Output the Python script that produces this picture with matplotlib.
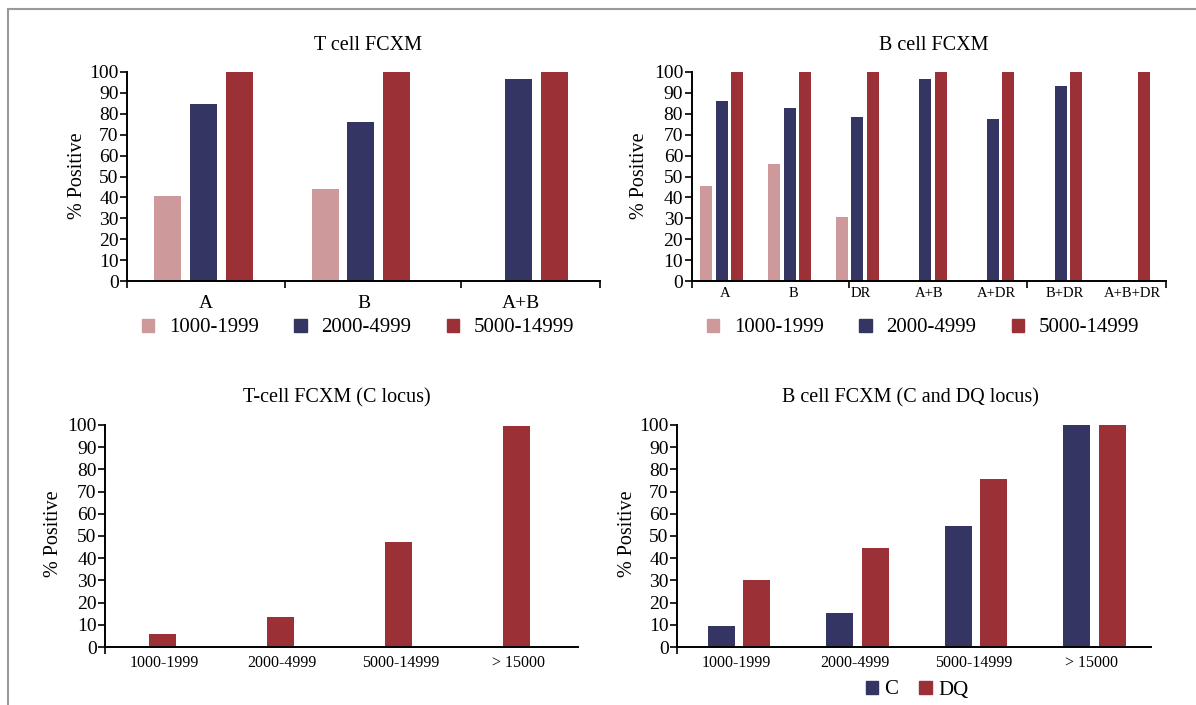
import numpy as np
import matplotlib
matplotlib.use("Agg")
import matplotlib.pyplot as plt
from matplotlib.patches import Patch
from matplotlib.lines import Line2D

plt.rcParams['font.family'] = ['Liberation Serif', 'DejaVu Serif']

#Colours
PINK = '#cd999a'
NAVY = '#353563'
RED = '#9b3036'

#T cell FCXM
t_cats = ['A', 'B', 'A+B']
t_low = [40.5, 44, 0]
t_mid = [84.5, 76, 96.5]
t_high = [100, 100, 100]

#B cell FCXM
b_cats = ['A', 'B', 'DR', 'A+B', 'A+DR', 'B+DR', 'A+B+DR']
b_low = [45.5, 56, 30.5, 0, 0, 0, 0]
b_mid = [86, 83, 78.5, 96.5, 77.5, 93.5, 0]
b_high = [100, 100, 100, 100, 100, 100, 100]

#C / DQ locus panels
mfi_cats = ['1000-1999', '2000-4999', '5000-14999', '> 15000']
tc_locus = [6, 13.5, 47.5, 99.5]
bc_c = [9.5, 15.5, 54.5, 100]
bc_dq = [30, 44.5, 75.5, 100]

range_labels = ['1000-1999', '2000-4999', '5000-14999']
W, H = 1196, 705


def px_axes(left, right, top, bottom):
    return fig.add_axes([left / W, 1 - bottom / H, (right - left) / W, (bottom - top) / H])


def style(ax, cats, xfont, xpad, xticks_at=None):
    ax.set_xlim(-0.5, len(cats) - 0.5)
    ax.set_ylim(0, 100)
    ax.set_yticks(range(0, 101, 10))
    for s in ['top', 'right']:
        ax.spines[s].set_visible(False)
    for s in ['left', 'bottom']:
        ax.spines[s].set_linewidth(1.4)
    ax.tick_params(axis='y', labelsize=14, length=5, width=1.2, pad=1)
    ax.set_xticks(range(len(cats)))
    ax.set_xticklabels(cats, fontsize=xfont)
    ax.tick_params(axis='x', which='major', length=0, pad=xpad)
    minor = [-0.5] + (xticks_at or [])
    ax.set_xticks(minor, minor=True)
    ax.tick_params(axis='x', which='minor', length=5, width=1.2)


def ylab(x, y):
    fig.text(x / W, 1 - y / H, '% Positive', rotation=90, ha='center', va='center', fontsize=14.5)


def title(x, y, s):
    fig.text(x / W, 1 - y / H, s, ha='center', va='center', fontsize=14.5)


fig = plt.figure(figsize=(W / 100, H / 100), dpi=100)

#Top left
ax1 = px_axes(127, 600, 72, 281)
x = np.arange(len(t_cats)) - 0.016
bw = 0.171
ax1.bar(x - 0.228, t_low, bw, color=PINK)
ax1.bar(x, t_mid, bw, color=NAVY)
ax1.bar(x + 0.228, t_high, bw, color=RED)
style(ax1, t_cats, 14, 10, [0.5, 1.62, 2.5])
ylab(77, 176)
title(368, 45, 'T cell FCXM')

#Top right
ax2 = px_axes(691.5, 1166, 72, 281)
x = np.arange(len(b_cats)) - 0.053
bw = 0.177
ax2.bar(x - 0.228, b_low, bw, color=PINK)
ax2.bar(x, b_mid, bw, color=NAVY)
ax2.bar(x + 0.228, b_high, bw, color=RED)
style(ax2, b_cats, 10.5, 4, [1.82, 4.45, 6.5])
ylab(640, 176)
title(934, 45, 'B cell FCXM')

#Bottom left
ax3 = px_axes(105, 577.5, 425, 647)
x = np.arange(len(mfi_cats)) - 0.017
ax3.bar(x, tc_locus, 0.228, color=RED)
style(ax3, mfi_cats, 11.5, 6)
ylab(54, 534)
title(337, 398, 'T-cell FCXM (C locus)')

#Bottom right
ax4 = px_axes(677, 1151, 425, 647)
x = np.arange(len(mfi_cats)) + 0.023
ax4.bar(x - 0.148, bc_c, 0.228, color=NAVY)
ax4.bar(x + 0.148, bc_dq, 0.228, color=RED)
style(ax4, mfi_cats, 11.5, 6)
ylab(627, 534)
title(910, 398, 'B cell FCXM (C and DQ locus)')

#Legends
three = [Patch(color=c) for c in (PINK, NAVY, RED)]
for cx in (358, 923):
    fig.legend(three, range_labels, loc='center', bbox_to_anchor=(cx / W, 1 - 328 / H),
               ncol=3, frameon=False, fontsize=15, handlelength=0.6, handleheight=0.6,
               handletextpad=0.7, columnspacing=1.7, borderaxespad=0, borderpad=0)
fig.legend([Patch(color=NAVY), Patch(color=RED)], ['C', 'DQ'], loc='center',
           bbox_to_anchor=(917 / W, 1 - 690 / H), ncol=2, frameon=False, fontsize=15,
           handlelength=0.6, handleheight=0.6, handletextpad=0.3, columnspacing=1.0,
           borderaxespad=0, borderpad=0)

#Page frame (top and left rules)
fig.add_artist(Line2D([8 / W, 1], [1 - 9 / H, 1 - 9 / H], color='#9a9a9a', lw=1.5))
fig.add_artist(Line2D([8 / W, 8 / W], [0, 1 - 9 / H], color='#9a9a9a', lw=1.5))

fig.savefig('out.png', dpi=100)
